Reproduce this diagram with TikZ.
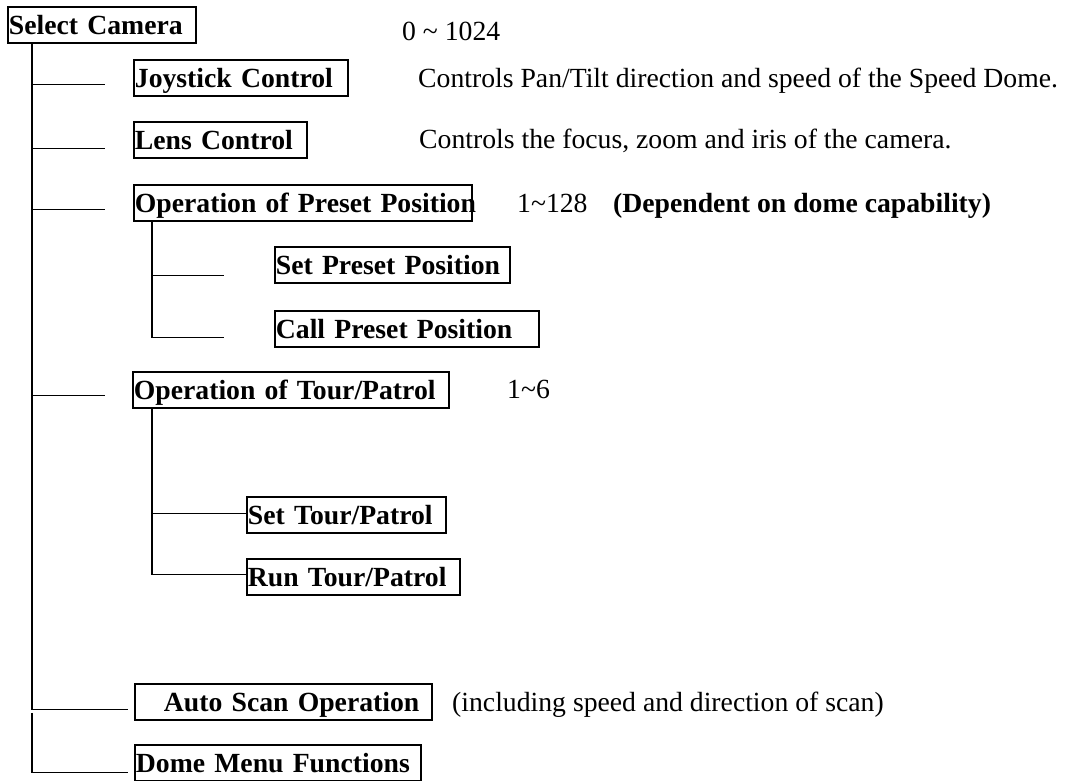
\documentclass[tikz,border=0pt]{standalone}
\usepackage{fontspec}
\setmainfont{Liberation Serif}
\usepackage{tikz}

\begin{document}
\begin{tikzpicture}[x=1pt,y=-1pt]
    \tikzset{MenuBox/.style={draw, line width=1.8pt, anchor=north west,
        inner xsep=1pt, inner ysep=0pt, text height=28pt, text depth=8pt,
        align=left, font=\fontsize{27.7}{33}\selectfont\bfseries},
      Note/.style={anchor=base west, inner sep=0pt,
        font=\fontsize{27.7}{33}\selectfont},
      Link/.style={line width=1.1pt}}
    \useasboundingbox (0,0) rectangle (1068,780);

    \node[MenuBox,text width=186pt] (Cam) at (7,6) {Select Camera};
    \node[Note] (Rng) at (402,40) {0 \textasciitilde{} 1024};

    \node[MenuBox,text width=212pt] (A1) at (133,59) {Joystick Control};
    \node[MenuBox,text width=171pt] (A2) at (133,121) {Lens Control};
    \node[MenuBox,text width=336pt] (A3) at (133,184) {\mbox{Operation of Preset Position}};
    \node[MenuBox,text width=233pt] (B1) at (274,246) {Set Preset Position};
    \node[MenuBox,text width=262pt] (B2) at (274,310) {Call Preset Position};
    \node[MenuBox,text width=314pt] (A4) at (132,371) {Operation of Tour/Patrol};
    \node[MenuBox,text width=197pt] (C1) at (246,496) {Set Tour/Patrol};
    \node[MenuBox,text width=211pt] (C2) at (246,558) {Run Tour/Patrol};
    \node[MenuBox,text width=295pt] (A5) at (134,683) {\hspace*{28pt}Auto Scan Operation};
    \node[MenuBox,text width=284pt] (A6) at (134,744) {Dome Menu Functions};

    \node[Note] (N1) at (418,87) {Controls Pan/Tilt direction and speed of the Speed Dome.};
    \node[Note] (N2) at (419,148) {Controls the focus, zoom and iris of the camera.};
    \node[Note] (N3) at (517,212) {1\textasciitilde128};
    \node[Note] (N4) at (613,212) {\bfseries (Dependent on dome capability)};
    \node[Note] (N5) at (507,398) {1\textasciitilde6};
    \node[Note] (N6) at (452,711) {(including speed and direction of scan)};

    \coordinate (t0) at ([xshift=25pt]Cam.south west);
    \coordinate (a1) at ([xshift=-28pt,yshift=12pt]A1.south west);
    \coordinate (a2) at ([xshift=-28pt,yshift=10pt]A2.south west);
    \coordinate (a3) at ([xshift=-28pt,yshift=12pt]A3.south west);
    \coordinate (a4) at ([xshift=-27pt,yshift=13pt]A4.south west);
    \coordinate (a5) at ([xshift=-6pt,yshift=11pt]A5.south west);
    \coordinate (a6) at ([xshift=-6pt,yshift=9pt]A6.south west);

    \draw[Link] (t0) -- (a5 -| t0) -- (a5);
    \draw[Link] ([yshift=-3pt]a5 -| t0) -- (a6 -| t0) -- (a6);
    \draw[Link] (a1 -| t0) -- (a1);
    \draw[Link] (a2 -| t0) -- (a2);
    \draw[Link] (a3 -| t0) -- (a3);
    \draw[Link] (a4 -| t0) -- (a4);

    \coordinate (p0) at ([xshift=19pt]A3.south west);
    \coordinate (b1) at ([xshift=-50pt,yshift=8pt]B1.south west);
    \coordinate (b2) at ([xshift=-50pt,yshift=10pt]B2.south west);
    \draw[Link] (p0) -- (b2 -| p0) -- (b2);
    \draw[Link] (b1 -| p0) -- (b1);

    \coordinate (q0) at ([xshift=20pt]A4.south west);
    \coordinate (c1) at ([yshift=20pt]C1.south west);
    \coordinate (c2) at ([yshift=21pt]C2.south west);
    \draw[Link] (q0) -- (c2 -| q0) -- (c2);
    \draw[Link] (c1 -| q0) -- (c1);
\end{tikzpicture}
\end{document}
